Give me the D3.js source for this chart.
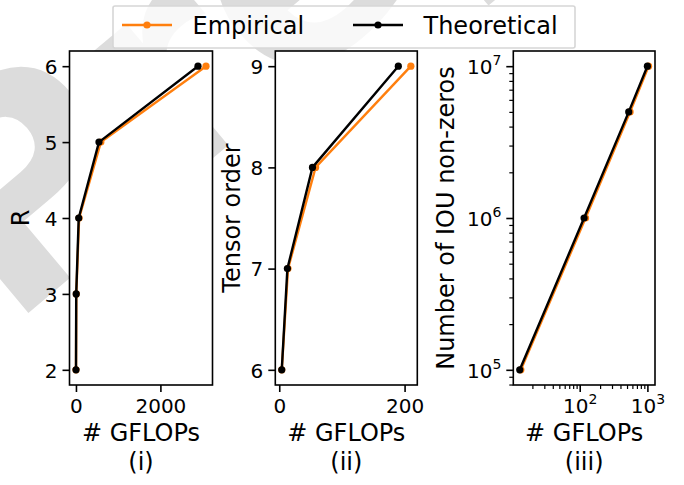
<!DOCTYPE html>
<html>
<head>
<meta charset="utf-8">
<script src="https://cdn.jsdelivr.net/npm/d3@7"></script>
<style>
    body { margin: 0; background: #fff; }
    svg { display: block; font-family: "DejaVu Sans", sans-serif; }
</style>
</head>
<body>
<div id="chart"></div>
<script>
// (i) rank R vs GFLOPs
const rValues = [2, 3, 4, 5, 6]
const rEmpirical = [1, 8, 75, 590, 3080]
const rTheoretical = [1, 6, 65, 545, 2890]

// (ii) tensor order vs GFLOPs
const orderValues = [6, 7, 8, 9]
const orderEmpirical = [4, 14, 58, 210]
const orderTheoretical = [4, 13, 53, 190]

// (iii) IOU non-zeros vs GFLOPs (log-log)
const nnzValues = [1e5, 1e6, 5e6, 1e7]
const nnzEmpirical = [13.5, 122, 555, 1040]
const nnzTheoretical = [13, 116, 530, 1000]

const seriesNames = ['Empirical', 'Theoretical']
const seriesColors = ['#ff7f0e', '#000000']
const panelLabels = ['(i)', '(ii)', '(iii)']
const yLabels = ['R', 'Tensor order', 'Number of IOU non-zeros']
const xLabel = '# GFLOPs'
const xTicks = [[0, 2000], [0, 200], [100, 1000]]
const yTicks = [[2, 3, 4, 5, 6], [6, 7, 8, 9], [1e5, 1e6, 1e7]]

const width = 684, height = 485
const plotTop = 51, plotBottom = 385

const svg = d3.select('#chart').append('svg')
    .attr('width', width)
    .attr('height', height)

// faint watermark behind the figure
svg.append('text')
    .attr('transform', 'translate(8,330) rotate(-40)')
    .attr('font-size', 290)
    .attr('font-weight', 'bold')
    .attr('fill', '#dcdcdc')
    .text('Preprint')

// matplotlib style 5% margins
const padDomain = (vals, log) => {
    let [a, b] = d3.extent(vals.map(v => log ? Math.log10(v) : v))
    const m = (b - a) * 0.05
    a -= m; b += m
    return log ? [10 ** a, 10 ** b] : [a, b]
}

const panels = [
    { left: 69.5, right: 212.5, ys: rValues, xs: [rEmpirical, rTheoretical], log: false, labelX: 20 },
    { left: 275.3, right: 417.3, ys: orderValues, xs: [orderEmpirical, orderTheoretical], log: false, labelX: 231.7 },
    { left: 513.3, right: 655, ys: nnzValues, xs: [nnzEmpirical, nnzTheoretical], log: true, labelX: 445 }
]

// label "10^k" with a raised exponent
const powLabel = (sel) => sel.each(function (d) {
    const t = d3.select(this)
    const k = Math.round(Math.log10(d))
    t.text('10')
    t.append('tspan').attr('dy', -9).attr('font-size', 14).text(k)
})

panels.forEach((p, i) => {
    const g = svg.append('g')
    const allX = p.xs[0].concat(p.xs[1])

    const x = (p.log ? d3.scaleLog() : d3.scaleLinear())
        .domain(padDomain(allX, p.log))
        .range([p.left, p.right])
    const y = (p.log ? d3.scaleLog() : d3.scaleLinear())
        .domain(padDomain(p.ys, p.log))
        .range([plotBottom, plotTop])

    g.append('rect')
        .attr('x', p.left).attr('y', plotTop)
        .attr('width', p.right - p.left).attr('height', plotBottom - plotTop)
        .attr('fill', '#fff')

    if (p.log) {
        const minorX = x.ticks().filter(t => !xTicks[i].includes(t))
        const minorY = y.ticks().filter(t => !yTicks[i].includes(t))
        g.append('g')
            .attr('transform', `translate(0,${plotBottom})`)
            .call(d3.axisBottom(x).tickValues(minorX).tickSize(4).tickFormat(''))
            .call(a => a.select('.domain').remove())
            .call(a => a.selectAll('line').attr('stroke-width', 1.2))
        g.append('g')
            .attr('transform', `translate(${p.left},0)`)
            .call(d3.axisLeft(y).tickValues(minorY).tickSize(4).tickFormat(''))
            .call(a => a.select('.domain').remove())
            .call(a => a.selectAll('line').attr('stroke-width', 1.2))
    }

    const xAxis = g.append('g')
        .attr('transform', `translate(0,${plotBottom})`)
        .call(d3.axisBottom(x).tickValues(xTicks[i]).tickSize(7).tickPadding(5).tickFormat(d3.format('d')))
    const yAxis = g.append('g')
        .attr('transform', `translate(${p.left},0)`)
        .call(d3.axisLeft(y).tickValues(yTicks[i]).tickSize(7).tickPadding(5).tickFormat(d3.format('d')))

    ;[xAxis, yAxis].forEach(a => {
        a.attr('font-size', 20).attr('font-family', null)
        a.select('.domain').remove()
        a.selectAll('.tick line').attr('stroke-width', 1.6)
        a.selectAll('.tick text').attr('fill', '#000')
    })
    xAxis.selectAll('.tick text').attr('dy', '0.8em')
    yAxis.selectAll('.tick text').attr('dy', '0.36em')
    if (p.log) {
        xAxis.selectAll('.tick text').call(powLabel)
        yAxis.selectAll('.tick text').call(powLabel)
    }

    // lines and point markers
    p.xs.forEach((xs, s) => {
        const pts = xs.map((v, j) => [x(v), y(p.ys[j])])
        g.append('path')
            .attr('d', d3.line()(pts))
            .attr('fill', 'none')
            .attr('stroke', seriesColors[s])
            .attr('stroke-width', 2.4)
            .attr('stroke-linejoin', 'round')
        g.selectAll(null)
            .data(pts)
            .join('circle')
            .attr('cx', d => d[0])
            .attr('cy', d => d[1])
            .attr('r', 3.6)
            .attr('fill', seriesColors[s])
    })

    g.append('rect')
        .attr('x', p.left).attr('y', plotTop)
        .attr('width', p.right - p.left).attr('height', plotBottom - plotTop)
        .attr('fill', 'none')
        .attr('stroke', '#000')
        .attr('stroke-width', 1.6)

    const cx = (p.left + p.right) / 2
    const xl = g.append('text')
        .attr('text-anchor', 'middle')
        .attr('font-size', 24)
    xl.append('tspan').attr('x', cx).attr('y', 441).text(xLabel)
    xl.append('tspan').attr('x', cx).attr('y', 469.5).text(panelLabels[i])

    g.append('text')
        .attr('transform', `translate(${p.labelX},${(plotTop + plotBottom) / 2}) rotate(-90)`)
        .attr('text-anchor', 'middle')
        .attr('dy', '0.36em')
        .attr('font-size', 24)
        .text(yLabels[i])
})

// legend
const legend = svg.append('g')
legend.append('rect')
    .attr('x', 113).attr('y', 6)
    .attr('width', 462).attr('height', 42)
    .attr('rx', 2)
    .attr('fill', 'rgba(255,255,255,0.8)')
    .attr('stroke', '#d6d6d6')
    .attr('stroke-width', 1.6)

const legendX = [122, 353]
seriesNames.forEach((name, s) => {
    const lx = legendX[s]
    legend.append('line')
        .attr('x1', lx).attr('x2', lx + 50)
        .attr('y1', 25).attr('y2', 25)
        .attr('stroke', seriesColors[s])
        .attr('stroke-width', 2.4)
    legend.append('circle')
        .attr('cx', lx + 25).attr('cy', 25).attr('r', 3.6)
        .attr('fill', seriesColors[s])
    legend.append('text')
        .attr('x', lx + 70.5).attr('y', 34)
        .attr('font-size', 24)
        .text(name)
})
</script>
</body>
</html>
